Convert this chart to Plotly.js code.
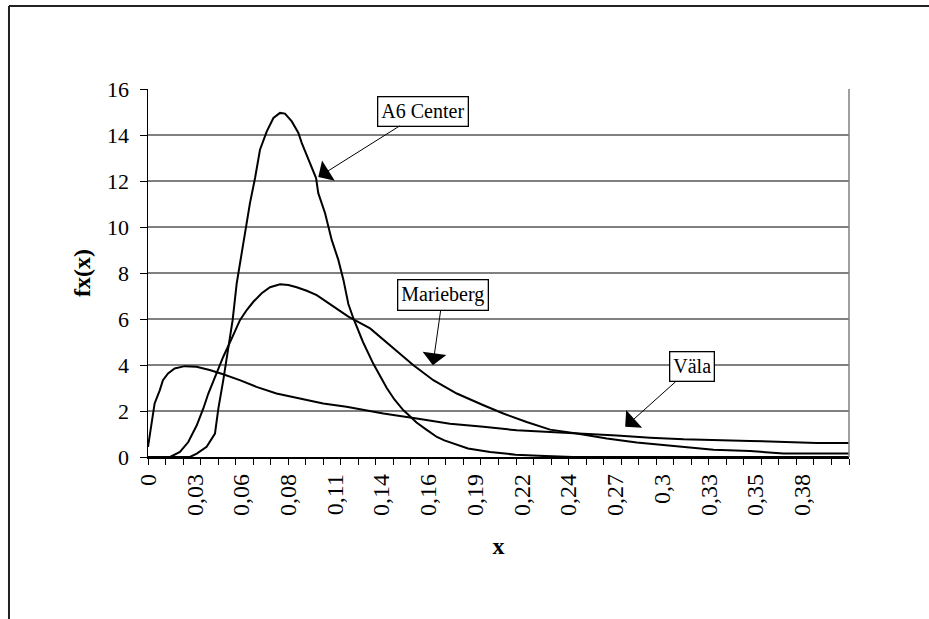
<!DOCTYPE html>
<html>
<head>
<meta charset="utf-8">
<script src="https://cdn.plot.ly/plotly-3.0.1.min.js"></script>
<style>
  html, body { margin: 0; padding: 0; background: #fff; overflow: hidden; }
  #chart { position: absolute; left: 0; top: 0; width: 929px; height: 619px; }
</style>
</head>
<body>
<div id="chart"></div>
<script>
// Category axis tick labels (every 8th category of 121)
const tickLabels = ["0","0,03","0,06","0,08","0,11","0,14","0,16","0,19","0,22","0,24","0,27","0,3","0,33","0,35","0,38"];
const STEP = 0.0034375;      // width of one category in x units
const N_CAT = 120;

// A6 Center
const a6X = [0,0.0247,0.0287,0.0345,0.0394,0.0414,0.0443,0.0473,0.0498,0.0522,0.0551,0.0577,0.060,0.063,0.0659,0.0699,0.0738,0.0777,0.0806,0.0846,0.0885,0.0905,0.0953,0.0989,0.1002,0.1042,0.1081,0.112,0.115,0.1179,0.121,0.1265,0.1326,0.1405,0.145,0.1503,0.154,0.158,0.164,0.17,0.1744,0.1836,0.1883,0.2013,0.2163,0.23,0.2425,0.25,0.4125];
const a6Y = [0,0,0.15,0.44,1.02,2.1,3.34,4.79,5.95,7.55,8.86,10.0,11.04,12.13,13.36,14.16,14.74,14.96,14.93,14.59,14.09,13.65,12.78,12.13,11.47,10.6,9.44,8.57,7.7,6.65,6.0,5.0,4.05,3.0,2.5,2.03,1.78,1.5,1.18,0.87,0.72,0.48,0.37,0.22,0.1,0.05,0.03,0,0];

// Marieberg
const marX = [0,0.013,0.0188,0.0237,0.0287,0.0325,0.0355,0.0404,0.0443,0.0493,0.0541,0.0581,0.062,0.0669,0.0718,0.0777,0.0826,0.0875,0.0934,0.0993,0.1052,0.1111,0.1179,0.1307,0.1424,0.1562,0.1679,0.1817,0.1974,0.2091,0.2228,0.2366,0.2523,0.27,0.2876,0.3112,0.3328,0.3543,0.3739,0.4125];
const marY = [0,0,0.22,0.65,1.38,2.1,2.76,3.63,4.36,5.16,5.95,6.39,6.75,7.12,7.38,7.51,7.48,7.38,7.23,7.04,6.75,6.46,6.1,5.59,4.87,3.99,3.34,2.76,2.25,1.89,1.52,1.19,1.02,0.8,0.63,0.48,0.32,0.26,0.15,0.15];

// Väla
const valX = [0,0.002,0.0039,0.0069,0.0088,0.0118,0.0157,0.0216,0.0285,0.0363,0.0442,0.054,0.0638,0.0756,0.0893,0.1031,0.1168,0.1385,0.1581,0.1777,0.1974,0.217,0.2366,0.2562,0.2758,0.2955,0.3151,0.3543,0.3935,0.4125];
const valY = [0.44,1.31,2.33,2.9,3.34,3.63,3.85,3.95,3.92,3.78,3.6,3.34,3.05,2.76,2.54,2.33,2.18,1.89,1.67,1.45,1.31,1.16,1.09,1.02,0.94,0.84,0.77,0.7,0.61,0.61];

const seriesNames = ["A6 Center", "Marieberg", "Väla"];

const lineStyle = {color: "#000", width: 2};
const traces = [
  {x: a6X, y: a6Y, name: seriesNames[0]},
  {x: marX, y: marY, name: seriesNames[1]},
  {x: valX, y: valY, name: seriesNames[2]}
].map(t => Object.assign(t, {type: "scatter", mode: "lines", line: lineStyle, hoverinfo: "x+y+name"}));

const tickVals = tickLabels.map((_, i) => i * 8 * STEP);
const FONT = "'Liberation Serif', 'Times New Roman', serif";

function callout(text, x, y, ax, ay) {
  return {
    text: text, x: x, y: y, xref: "x", yref: "y", ax: ax, ay: ay,
    showarrow: true, arrowhead: 1, arrowsize: 4, arrowwidth: 1, arrowcolor: "#000",
    bordercolor: "#000", borderwidth: 1.3, borderpad: 3, bgcolor: "#fff",
    font: {family: FONT, size: 20, color: "#000"}
  };
}

const layout = {
  width: 929, height: 619,
  margin: {l: 148, r: 80, t: 89, b: 162},
  paper_bgcolor: "#fff", plot_bgcolor: "#fff",
  showlegend: false,
  font: {family: FONT, size: 20, color: "#000"},
  xaxis: {
    range: [0, N_CAT * STEP], tickmode: "array", tickvals: tickVals, ticktext: tickLabels,
    tickangle: -90, ticks: "", showgrid: false, zeroline: false,
    showline: true, linecolor: "#000", linewidth: 1.5,
    tickfont: {family: FONT, size: 24, color: "#000"}, ticklabelstandoff: 6,
    minor: {tickmode: "linear", tick0: 0, dtick: 3 * STEP, ticks: "outside", ticklen: 6, tickwidth: 1, tickcolor: "#000", showgrid: false},
    title: {text: "<b>x</b>", font: {family: FONT, size: 24, color: "#000"}, standoff: 22}
  },
  yaxis: {
    range: [0, 16], dtick: 2, tick0: 0, ticks: "outside", ticklen: 7, tickcolor: "#000", tickwidth: 1,
    showgrid: true, gridcolor: "#808080", gridwidth: 1.5, zeroline: false,
    showline: true, linecolor: "#000", linewidth: 1.5,
    tickfont: {family: FONT, size: 22, color: "#000"}, ticklabelstandoff: 6,
    title: {text: "<b>fx(x)</b>", font: {family: FONT, size: 24, color: "#000"}, standoff: 9}
  },
  shapes: [
    {type: "line", xref: "paper", yref: "paper", x0: 1, x1: 1, y0: 0, y1: 1, line: {color: "#808080", width: 1.5}},
    // outer chart frame (top and left edges visible)
    {type: "line", xref: "paper", yref: "paper", x0: -0.1983, x1: 1.2, y0: 1.2255, y1: 1.2255, line: {color: "#222", width: 2}},
    {type: "line", xref: "paper", yref: "paper", x0: -0.1983, x1: -0.1983, y0: 1.2255, y1: -0.5, line: {color: "#222", width: 2}}
  ],
  annotations: [
    callout("A6 Center", 0.1002, 12.17, 105, -66),
    callout("Marieberg", 0.1676, 3.99, 10, -70),
    callout("Väla", 0.2808, 1.31, 67, -60)
  ]
};

Plotly.newPlot("chart", traces, layout, {displayModeBar: false, staticPlot: true});
</script>
</body>
</html>
